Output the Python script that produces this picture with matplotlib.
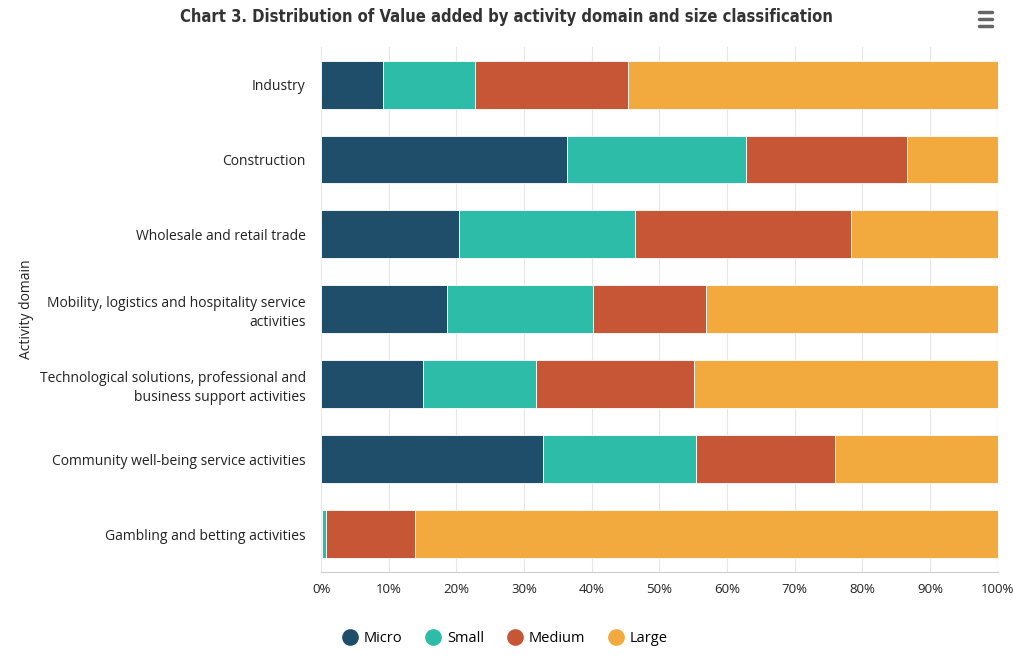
import numpy as np
import matplotlib.pyplot as plt
from matplotlib.lines import Line2D

domains = [
    "Industry",
    "Construction",
    "Wholesale and retail trade",
    "Mobility, logistics and hospitality service\nactivities",
    "Technological solutions, professional and\nbusiness support activities",
    "Community well-being service activities",
    "Gambling and betting activities",
]
sizes = ["Micro", "Small", "Medium", "Large"]
colors = ["#1f4e6b", "#2dbca8", "#c75636", "#f2aa3f"]

micro = [9.2, 36.3, 20.4, 18.6, 15.1, 32.8, 0.1]
small = [13.5, 26.5, 26.0, 21.6, 16.7, 22.6, 0.6]
medium = [22.6, 23.8, 31.9, 16.7, 23.3, 20.5, 13.2]
large = [54.7, 13.4, 21.7, 43.1, 44.9, 24.1, 86.1]

plt.rcParams['font.family'] = ['Open Sans', 'DejaVu Sans']

fig = plt.figure(figsize=(10.13, 6.72), dpi=100)
ax = fig.add_axes([0.317, 0.149, 0.668, 0.781])

y = np.arange(len(domains))
left = np.zeros(len(domains))
for name, vals, c in zip(sizes, [micro, small, medium, large], colors):
    vals = np.array(vals)
    ax.barh(y, vals, left=left, height=0.64, color=c, edgecolor="white",
            linewidth=0.6, label=name, zorder=3)
    left += vals

ax.set_xlim(0, 100)
ax.set_ylim(len(domains) - 0.5, -0.5)
ax.set_xticks(np.arange(0, 101, 10))
ax.set_xticklabels([f"{v}%" for v in range(0, 101, 10)], fontsize=9.5, color="#222222")
ax.set_yticks(y)
ax.set_yticklabels(domains, fontsize=10, color="#222222", linespacing=1.3)
ax.tick_params(axis="y", length=0, pad=11)
ax.tick_params(axis="x", length=0, pad=8)
for s in ["top", "right", "left"]:
    ax.spines[s].set_visible(False)
ax.spines["bottom"].set_color("#cccccc")
ax.grid(axis="x", color="#e6e6e6", linewidth=0.8, zorder=0)
ax.set_ylabel("Activity domain", fontsize=10, color="#222222")
ax.yaxis.set_label_coords(-0.424, 0.5)

fig.text(0.5, 0.975, "Chart 3. Distribution of Value added by activity domain and size classification",
         ha="center", va="center", fontsize=11.9, fontweight="bold", color="#333333",
         family=["DejaVu Sans"], fontstretch="condensed")

# menu icon
for yy in [0.962, 0.972, 0.982]:
    fig.add_artist(Line2D([0.966, 0.979], [yy, yy], color="#666666", linewidth=2.5,
                          solid_capstyle="round"))

handles = [Line2D([], [], marker="o", linestyle="", markersize=11, color=c) for c in colors]
fig.legend(handles, sizes, loc="center", bbox_to_anchor=(0.498, 0.05), ncol=4,
           frameon=False, fontsize=10.5, handletextpad=0.35, columnspacing=1.5,
           handlelength=1.2)

fig.savefig("out.png", dpi=100)
